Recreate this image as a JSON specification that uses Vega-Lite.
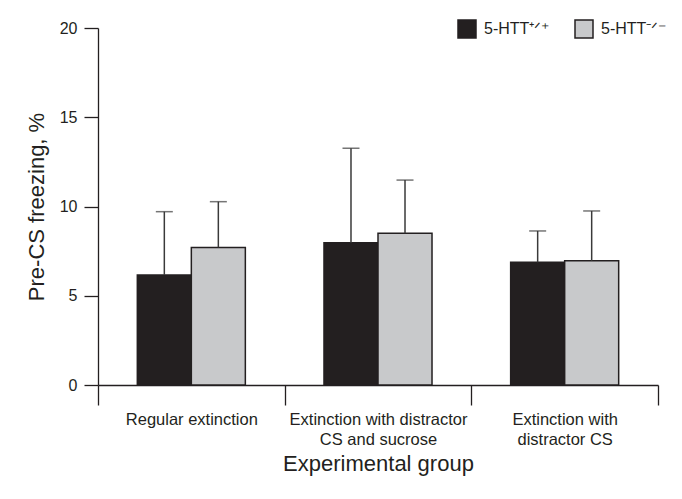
{
  "$schema": "https://vega.github.io/schema/vega-lite/v6.json",
  "width": 560,
  "height": 357,
  "padding": {"left": 25, "top": 19, "right": 10, "bottom": 5},
  "background": "white",
  "config": {
    "font": "Liberation Sans",
    "view": {"stroke": null},
    "axis": {"domainColor": "#231f20", "tickColor": "#231f20", "labelColor": "#231f20", "titleColor": "#231f20", "domainWidth": 1.3, "tickWidth": 1.3, "grid": false, "labelFont": "Liberation Sans", "titleFont": "Liberation Sans", "titleFontWeight": "normal"}
  },
  "data": {
    "values": [
      {"group": "Regular extinction", "genotype": "5-HTT⁺ᐟ⁺", "mean": 6.16, "upper": 9.71},
      {"group": "Regular extinction", "genotype": "5-HTT⁻ᐟ⁻", "mean": 7.71, "upper": 10.27},
      {"group": "Extinction with distractor|CS and sucrose", "genotype": "5-HTT⁺ᐟ⁺", "mean": 7.97, "upper": 13.26},
      {"group": "Extinction with distractor|CS and sucrose", "genotype": "5-HTT⁻ᐟ⁻", "mean": 8.5, "upper": 11.48},
      {"group": "Extinction with|distractor CS", "genotype": "5-HTT⁺ᐟ⁺", "mean": 6.87, "upper": 8.63},
      {"group": "Extinction with|distractor CS", "genotype": "5-HTT⁻ᐟ⁻", "mean": 6.96, "upper": 9.75}
    ]
  },
  "encoding": {
    "x": {
      "field": "group", "type": "nominal", "sort": null,
      "scale": {"paddingInner": 0, "paddingOuter": 0},
      "axis": {"title": "Experimental group", "titleFontSize": 22, "titlePadding": 6, "labelAngle": 0, "labelFontSize": 16.5, "labelPadding": 6, "tickSize": 20, "tickBand": "extent", "labelExpr": "split(datum.label, '|')", "labelLineHeight": 20, "labelBaseline": "top"}
    },
    "xOffset": {"field": "genotype", "type": "nominal", "sort": null, "scale": {"paddingInner": 0, "paddingOuter": 0.728}}
  },
  "layer": [
    {
      "mark": {"type": "bar", "stroke": "#231f20", "strokeWidth": 1.5},
      "encoding": {
        "y": {"field": "mean", "type": "quantitative", "scale": {"domain": [0, 20], "nice": false},
          "axis": {"title": "Pre-CS freezing, %", "titleFontSize": 22, "titlePadding": 11, "values": [0, 5, 10, 15, 20], "tickSize": 14, "labelPadding": 7, "labelFontSize": 16}},
        "fill": {"field": "genotype", "type": "nominal", "sort": null,
          "scale": {"range": ["#231f20", "#c8c9cb"]},
          "legend": {"title": null, "orient": "top-right", "direction": "horizontal", "offset": -9, "symbolType": "square", "symbolSize": 324, "symbolStrokeColor": "#231f20", "symbolStrokeWidth": 1.5, "labelFontSize": 16, "labelFont": "Liberation Sans", "labelColor": "#231f20", "labelOffset": 7, "columnPadding": 22}}
      }
    },
    {
      "mark": {"type": "rule", "color": "#3a3a3a", "strokeWidth": 1.5},
      "encoding": {
        "y": {"field": "mean", "type": "quantitative"},
        "y2": {"field": "upper"}
      }
    },
    {
      "mark": {"type": "tick", "orient": "horizontal", "color": "#3a3a3a", "thickness": 1.5, "size": 17},
      "encoding": {
        "y": {"field": "upper", "type": "quantitative"}
      }
    }
  ]
}
